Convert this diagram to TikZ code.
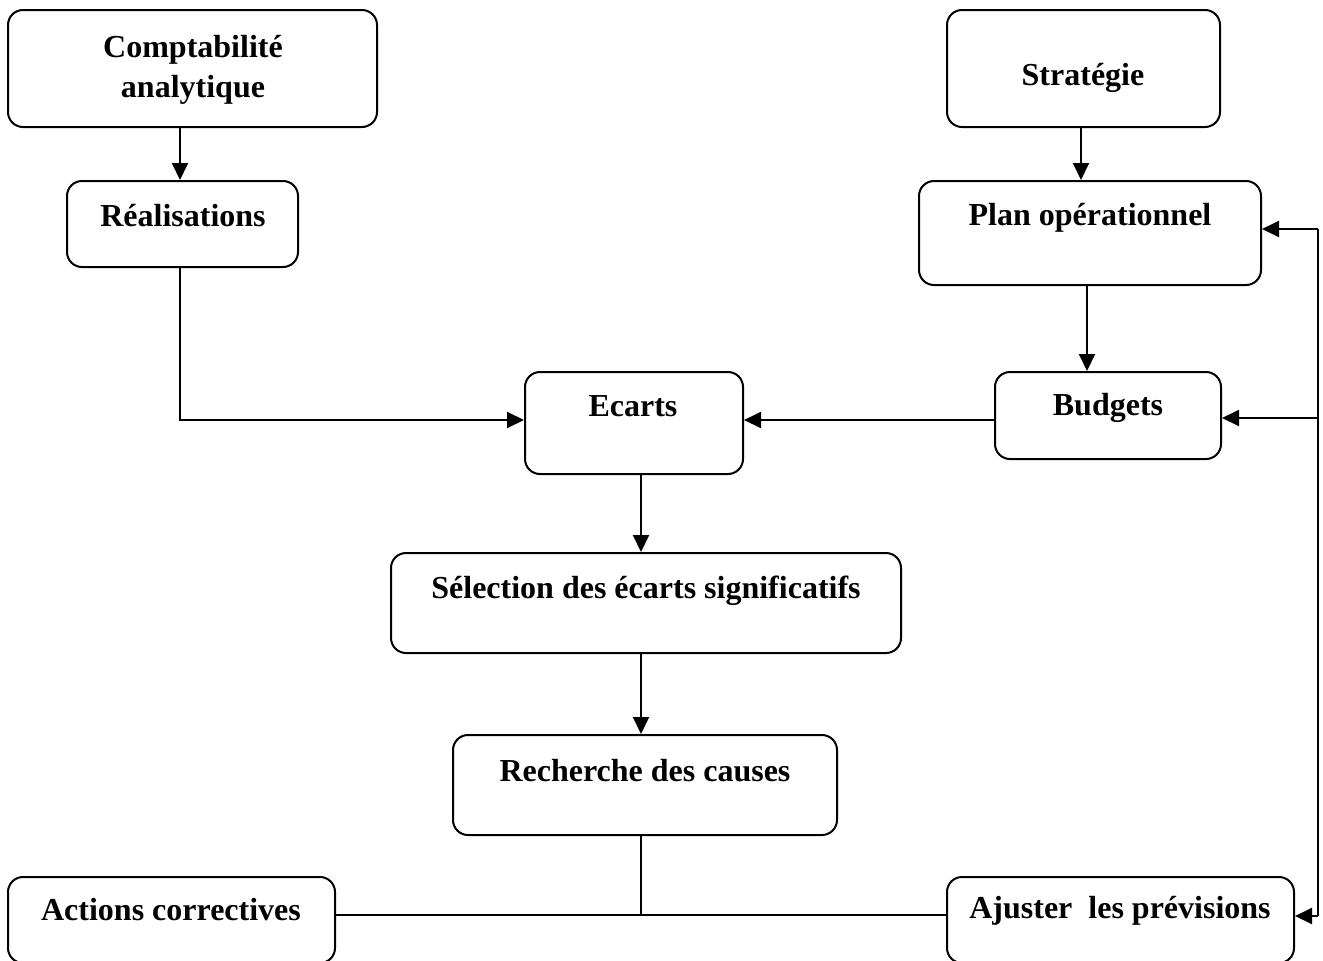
\documentclass[tikz,border=0pt]{standalone}
\usepackage{fontspec}
\setmainfont{Liberation Serif}
\usetikzlibrary{arrows.meta,calc}
\begin{document}
\begin{tikzpicture}[x=1pt,y=-1pt,
  box/.style={draw,line width=2pt,rounded corners=15pt,inner sep=0pt},
  lbl/.style={anchor=base,inner sep=0pt,font=\fontsize{32}{40}\selectfont\bfseries,align=center},
  conn/.style={line width=2pt},
  arr/.style={line width=2pt,-{Triangle[length=17pt,width=16pt]}}]
\useasboundingbox (0,0) rectangle (1323,961);
% boxes
\node[box,minimum width=369pt,minimum height=117pt] (compta) at (192.5,68.5) {};
\node[box,minimum width=231pt,minimum height=86pt] (real) at (182.5,224) {};
\node[box,minimum width=273pt,minimum height=117pt] (strat) at (1083.5,68.5) {};
\node[box,minimum width=342pt,minimum height=104pt] (plan) at (1090,233) {};
\node[box,minimum width=226pt,minimum height=87pt] (budg) at (1108,415.5) {};
\node[box,minimum width=218pt,minimum height=102pt] (ecarts) at (634,423) {};
\node[box,minimum width=510pt,minimum height=100pt] (sel) at (646,603) {};
\node[box,minimum width=384pt,minimum height=100pt] (rech) at (645,785) {};
\node[box,minimum width=327pt,minimum height=86pt] (act) at (171.5,920) {};
\node[box,minimum width=347pt,minimum height=86pt] (ajust) at (1120.5,920) {};
% labels
\node[lbl] (comptaT) at (193,97) {Comptabilité\\analytique};
\node[lbl] (realT) at (183,226) {Réalisations};
\node[lbl] (stratT) at (1083,85) {Stratégie};
\node[lbl] (planT) at (1090,225) {Plan opérationnel};
\node[lbl] (budgT) at (1108,415) {Budgets};
\node[lbl] (ecartsT) at (633,416) {Ecarts};
\node[lbl] (selT) at (646,598) {Sélection des écarts significatifs};
\node[lbl] (rechT) at (645,781) {Recherche des causes};
\node[lbl] (actT) at (171,920) {Actions correctives};
\node[lbl] (ajustT) at (1120,918) {Ajuster\ \ les prévisions};
% helper coordinates
\coordinate (xa) at (180,0);
\coordinate (xs) at (1081,0);
\coordinate (xb) at (1087,0);
\coordinate (xe) at (641,0);
\coordinate (ye) at (0,420);
\coordinate (yb) at (0,418);
\coordinate (yp) at (0,229);
\coordinate (yh) at (0,915);
\coordinate (yj) at (0,916);
\coordinate (rr) at (1318,229);
\coordinate (rj) at (1318,916);
% connectors
\draw[arr] (compta.south -| xa) -- (real.north -| xa);
\draw[arr] (real.south -| xa) |- (ecarts.west |- ye);
\draw[arr] (strat.south -| xs) -- (plan.north -| xs);
\draw[arr] (plan.south -| xb) -- (budg.north -| xb);
\draw[arr] (budg.west |- ye) -- (ecarts.east |- ye);
\draw[arr] (ecarts.south -| xe) -- (sel.north -| xe);
\draw[arr] (sel.south -| xe) -- (rech.north -| xe);
\draw[conn] (rech.south -| xe) -- (yh -| xe);
\draw[conn] (act.east |- yh) -- (ajust.west |- yh);
\draw[conn] (rr) -- (rj);
\draw[arr] (rr) -- (plan.east |- yp);
\draw[arr] (rr |- yb) -- (budg.east |- yb);
\draw[arr] (rj) -- (ajust.east |- yj);
\end{tikzpicture}
\end{document}
